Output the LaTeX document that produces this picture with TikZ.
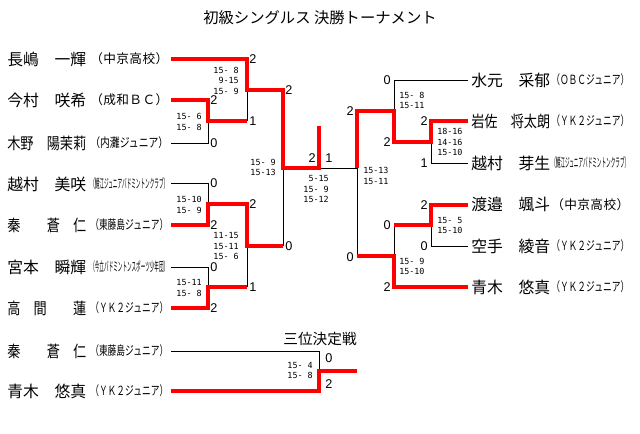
\documentclass[tikz,border=0pt]{standalone}
\usepackage{fontspec}
\usepackage{graphicx}
\setmainfont{Noto Sans CJK JP}
\newfontfamily\numfont{Liberation Sans}
\newfontfamily\scfont{DejaVu Sans Mono}
\newsavebox\fitbox
\def\Z{\hbox to 1em{}}
\def\distA#1{\ifx\relax#1\else\hskip0pt plus 1fil\relax\hbox{#1}\expandafter\distA\fi}
\def\distB#1{\hbox{#1}\distA}
\newcommand\fitcell[2]{\sbox\fitbox{#2}\ifdim\wd\fitbox>#1\relax\resizebox{#1}{\height}{\usebox\fitbox}\else\hbox to #1{\distB#2\relax}\fi}
\newcommand\nm[1]{\fitcell{59.25pt}{#1}}
\newcommand\cl[1]{\fitcell{58.5pt}{#1}}
\tikzset{
  nmstyle/.style={inner sep=0pt, anchor=west, font=\fontsize{12}{13}\selectfont},
  clstyle/.style={inner sep=0pt, anchor=west, font=\fontsize{9.5}{10}\selectfont},
  dg/.style={inner sep=0pt, font=\numfont\fontsize{9.5}{10}\selectfont},
  sc/.style={inner sep=0pt, font=\scfont\fontsize{6.3}{7.9}\selectfont},
  scl/.style={sc, anchor=east, align=right},
  scr/.style={sc, anchor=west, align=left},
  win/.style={draw=red, line width=2.6pt},
  lose/.style={draw=black, line width=0.75pt},
  ttl/.style={inner sep=0pt, font=\fontsize{11.5}{12}\selectfont}
}
\begin{document}
\begin{tikzpicture}[x=0.75pt,y=-0.75pt]
\useasboundingbox (0,0) rectangle (640,433);
\fill[white] (0,0) rectangle (640,433);

% titles
\node[ttl] (title) at (320,18) {初級シングルス 決勝トーナメント};
\node[ttl, font=\fontsize{11}{12}\selectfont] (title3) at (320,339) {三位決定戦};

% left players
\node[nmstyle] (L1) at (7,59) {\nm{長嶋{\Z}一輝}};
\node[clstyle] (L1c) at (90,59) {\cl{（中京高校）}};
\node[nmstyle] (L2) at (7,100) {\nm{今村{\Z}咲希}};
\node[clstyle] (L2c) at (90,100) {\cl{（成和ＢＣ）}};
\node[nmstyle] (L3) at (7,143) {\nm{木野{\Z}陽茉莉}};
\node[clstyle] (L3c) at (90,143) {\cl{（内灘ジュニア）}};
\node[nmstyle] (L4) at (7,184) {\nm{越村{\Z}美咲}};
\node[clstyle] (L4c) at (90,184) {\cl{（鯖江ジュニアバドミントンクラブ）}};
\node[nmstyle] (L5) at (7,225) {\nm{秦{\Z}{\Z}蒼{\Z}仁}};
\node[clstyle] (L5c) at (90,225) {\cl{（東藤島ジュニア）}};
\node[nmstyle] (L6) at (7,267) {\nm{宮本{\Z}瞬輝}};
\node[clstyle] (L6c) at (90,267) {\cl{（今立バドミントンスポーツ少年団）}};
\node[nmstyle] (L7) at (7,308) {\nm{高{\Z}間{\Z}{\Z}蓮}};
\node[clstyle] (L7c) at (90,308) {\cl{（ＹＫ２ジュニア）}};

% right players
\node[nmstyle] (R1) at (471,80) {\nm{水元{\Z}采郁}};
\node[clstyle] (R1c) at (551,80) {\cl{（ＯＢＣジュニア）}};
\node[nmstyle] (R2) at (471,121) {\nm{岩佐{\Z}将太朗}};
\node[clstyle] (R2c) at (551,121) {\cl{（ＹＫ２ジュニア）}};
\node[nmstyle] (R3) at (471,163) {\nm{越村{\Z}芽生}};
\node[clstyle] (R3c) at (551,163) {\cl{（鯖江ジュニアバドミントンクラブ）}};
\node[nmstyle] (R4) at (471,205) {\nm{渡邉{\Z}颯斗}};
\node[clstyle] (R4c) at (551,205) {\cl{（中京高校）}};
\node[nmstyle] (R5) at (471,246) {\nm{空手{\Z}綾音}};
\node[clstyle] (R5c) at (551,246) {\cl{（ＹＫ２ジュニア）}};
\node[nmstyle] (R6) at (471,287) {\nm{青木{\Z}悠真}};
\node[clstyle] (R6c) at (551,287) {\cl{（ＹＫ２ジュニア）}};

% third place players
\node[nmstyle] (T1) at (7,351) {\nm{秦{\Z}{\Z}蒼{\Z}仁}};
\node[clstyle] (T1c) at (90,351) {\cl{（東藤島ジュニア）}};
\node[nmstyle] (T2) at (7,391) {\nm{青木{\Z}悠真}};
\node[clstyle] (T2c) at (90,391) {\cl{（ＹＫ２ジュニア）}};

% line starts
\coordinate (p1) at (171,59);
\coordinate (p2) at (171,100);
\coordinate (p3) at (171,143);
\coordinate (p4) at (171,183);
\coordinate (p5) at (171,225);
\coordinate (p6) at (171,267);
\coordinate (p7) at (171,308);
\coordinate (q1) at (468,80);
\coordinate (q2) at (468,121);
\coordinate (q3) at (468,163);
\coordinate (q4) at (468,205);
\coordinate (q5) at (468,246);
\coordinate (q6) at (468,287);
\coordinate (s1) at (171,351);
\coordinate (s2) at (171,391);
% junctions
\coordinate (m1) at (208,121);
\coordinate (m2) at (247,90);
\coordinate (m3) at (208,204);
\coordinate (m4) at (208,287);
\coordinate (m5) at (247,246);
\coordinate (m6) at (283,168);
\coordinate (f) at (319,168);
\coordinate (champ) at (319,126);
\coordinate (r1) at (431,142);
\coordinate (r2) at (394,111);
\coordinate (r3) at (431,225);
\coordinate (r4) at (394,256);
\coordinate (r5) at (357,168);
\coordinate (t) at (319,371);
\coordinate (t3e) at (357,371);

% losing lines
\draw[lose] (p3) -| (m1);
\draw[lose] (m2 |- m1) -- (m2);
\draw[lose] (p4) -| (m3);
\draw[lose] (p6) -| (m4);
\draw[lose] (m5 |- m4) -- (m5);
\draw[lose] (m6 |- m5) -- (m6);
\draw[lose] (f) -- (r5);
\draw[lose] (q1) -| (r2);
\draw[lose] (q3) -| (r1);
\draw[lose] (q5) -| (r3);
\draw[lose] (r4 |- r3) -- (r4);
\draw[lose] (r5) -- (r5 |- r4);
\draw[lose] (s1) -| (t);

% winning lines
\draw[win] (p1) -| (m2) -- (m6 |- m2) -- (m6) -- (f) -- (champ);
\draw[win] (p2) -| (m1) -- (m2 |- m1);
\draw[win] (p5) -| (m3) -- (m5 |- m3) -- (m5) -- (m6 |- m5);
\draw[win] (p7) -| (m4) -- (m5 |- m4);
\draw[win] (q2) -| (r1) -- (r2 |- r1) -- (r2) -- (r5 |- r2) -- (r5);
\draw[win] (q4) -| (r3) -- (r4 |- r3);
\draw[win] (q6) -| (r4) -- (r5 |- r4);
\draw[win] (s2) -| (t) -- (t3e);

% game counts, left
\node[dg, anchor=west] (g1) at (249,59) {2};
\node[dg, anchor=west] (g2) at (210,100) {2};
\node[dg, anchor=west] (g3) at (249,121) {1};
\node[dg, anchor=west] (g4) at (210,143) {0};
\node[dg, anchor=west] (g5) at (285,90) {2};
\node[dg, anchor=west] (g6) at (210,183) {0};
\node[dg, anchor=west] (g7) at (210,225) {2};
\node[dg, anchor=west] (g8) at (249,204) {2};
\node[dg, anchor=west] (g9) at (210,267) {0};
\node[dg, anchor=west] (g10) at (249,287) {1};
\node[dg, anchor=west] (g11) at (210,308) {2};
\node[dg, anchor=west] (g12) at (285,246) {0};
% final
\node[dg, anchor=east] (g13) at (316,158) {2};
\node[dg, anchor=west] (g14) at (325,158) {1};
% right
\node[dg, anchor=east] (g15) at (391,80) {0};
\node[dg, anchor=east] (g16) at (428,121) {2};
\node[dg, anchor=east] (g17) at (391,142) {2};
\node[dg, anchor=east] (g18) at (428,163) {1};
\node[dg, anchor=east] (g19) at (428,205) {2};
\node[dg, anchor=east] (g20) at (391,225) {0};
\node[dg, anchor=east] (g21) at (428,246) {0};
\node[dg, anchor=east] (g22) at (391,287) {2};
\node[dg, anchor=east] (g23) at (354,111) {2};
\node[dg, anchor=east] (g24) at (354,257) {0};
% third place
\node[dg, anchor=west] (g25) at (325,358) {0};
\node[dg, anchor=west] (g26) at (325,384) {2};

% set scores
\node[scl] (s01) at (239,80.5) {15- 8\\9-15\\15- 9};
\node[scl] (s02) at (202,122) {15- 6\\15- 8};
\node[scl] (s03) at (202,205) {15-10\\15- 9};
\node[scl] (s04) at (239,246) {11-15\\15-11\\15- 6};
\node[scl] (s05) at (202,288) {15-11\\15- 8};
\node[scl] (s06) at (276,167.5) {15- 9\\15-13};
\node[scl] (s07) at (329,189) {5-15\\15- 9\\15-12};
\node[scr] (s08) at (363,176) {15-13\\15-11};
\node[scr] (s09) at (399,100.5) {15- 8\\15-11};
\node[scr] (s10) at (437,142) {18-16\\14-16\\15-10};
\node[scr] (s11) at (437,225.5) {15- 5\\15-10};
\node[scr] (s12) at (399,266.5) {15- 9\\15-10};
\node[scl] (s13) at (313,370.5) {15- 4\\15- 8};
\end{tikzpicture}
\end{document}
